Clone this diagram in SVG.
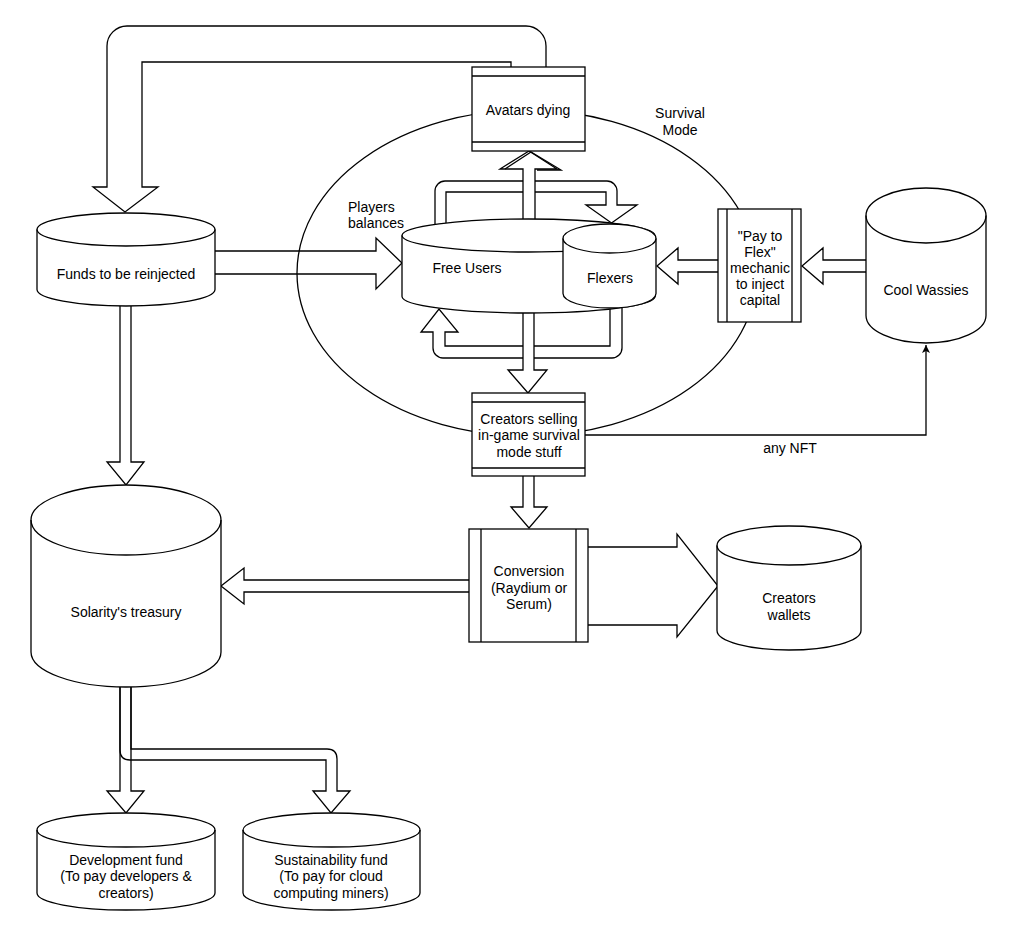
<svg xmlns="http://www.w3.org/2000/svg" width="1024" height="945" viewBox="0 0 1024 945">
<style>
.s{stroke:#000;stroke-width:1.3;fill:#fff;stroke-linejoin:miter}
.n{stroke:#000;stroke-width:1.3;fill:none}
text{font-family:"Liberation Sans",Arial,Helvetica,sans-serif;font-size:14px;fill:#000;text-anchor:middle}
</style>
<defs>
<marker id="ah" markerWidth="10" markerHeight="10" refX="8" refY="4" orient="auto" markerUnits="userSpaceOnUse">
<path d="M0,0 L8,4 L0,8 L2,4 Z" fill="#000"/>
</marker>
</defs>
<rect width="1024" height="945" fill="#fff"/>
<g id="connectors">
<path class="s" d="M546,67 V46 A20,20 0 0 0 526,26 H127 A20,20 0 0 0 107,46 V187 H93 L125,212 L158,187 H142 V62 H511 V67"/>
<path class="n" d="M215,251 H376 V238 L402,263 L376,289 V274 H215"/>
<path class="n" d="M120,306 V462 H107 L126,485 L144,462 H131 V306"/>
<path class="s" d="M435,224 V191 A10,10 0 0 1 445,181 H607 A10,10 0 0 1 617,191 V205 H637 L611.5,223 L586,205 H606 V192 H446 V224"/>
<path class="s" d="M523,222 V169 H500 L529,151 L557,169 H535 V222 Z"/>
<path class="n" d="M505,169 L531,152 L561,170 H537"/>
<path class="s" d="M610,305 V346 H445 V332 H458 L439,309 L421,332 H433 V348 A10,10 0 0 0 443,358 H612 A10,10 0 0 0 622,348 V305"/>
<path class="s" d="M523,310 V370 H508 L528,393 L547,370 H534 V310 Z"/>
<path class="s" d="M523,476 V507 H511 L529,528 L547,507 H534 V476"/>
<path class="s" d="M470,580 H244 V568 L221,586 L244,604 V592 H470"/>
<path class="s" d="M588,547 H677 V534 L718,586 L677,637 V625 H588"/>
<path class="s" d="M866,260 H823 V248 L802,266 L823,284 V272 H866"/>
<path class="s" d="M718,260 H678 V248 L657,266 L678,284 V272 H718"/>
<path class="n" d="M120,687 V750 Q120,760 130,760 H326 V791 H313 L331,813 L350,791 H337 V759 Q337,749 327,749 H131 V687"/>
<path class="n" d="M120,687 V791 H107 L126,813 L144,791 H131 V687"/>
<path class="n" d="M585,435 H926 V345" marker-end="url(#ah)"/>
<text x="790" y="453">any NFT</text>
</g>
<g id="survival-mode">
<ellipse class="n" cx="527" cy="273" rx="230" ry="163"/>
<text x="680" y="118">Survival</text>
<text x="680" y="135">Mode</text>
<text x="348" y="212" style="text-anchor:start">Players</text>
<text x="348" y="228" style="text-anchor:start">balances</text>
</g>
<g id="avatars-dying">
<rect class="s" x="472" y="67" width="113" height="84"/>
<path class="n" d="M472,76 H585 M472,142 H585"/>
<text x="528" y="115">Avatars dying</text>
</g>
<g id="funds-reinjected">
<path class="s" d="M37,229.5 A89,16.5 0 0 1 215,229.5 V289.5 A89,16.5 0 0 1 37,289.5 Z"/>
<path class="n" d="M37,229.5 A89,16.5 0 0 0 215,229.5"/>
<text x="126" y="279">Funds to be reinjected</text>
</g>
<g id="free-users">
<path class="s" d="M402,235.5 A126.5,16.5 0 0 1 655,235.5 V296.5 A126.5,16.5 0 0 1 402,296.5 Z"/>
<path class="n" d="M402,235.5 A126.5,16.5 0 0 0 655,235.5"/>
<text x="467" y="273">Free Users</text>
</g>
<g id="flexers">
<path class="s" d="M563,238.5 A46.5,14.5 0 0 1 656,238.5 V293.5 A46.5,14.5 0 0 1 563,293.5 Z"/>
<path class="n" d="M563,238.5 A46.5,14.5 0 0 0 656,238.5"/>
<text x="610" y="283">Flexers</text>
</g>
<g id="pay-to-flex">
<rect class="s" x="718" y="209" width="83" height="113"/>
<path class="n" d="M727,209 V322 M792,209 V322"/>
<text x="760" y="241">"Pay to</text>
<text x="760" y="257">Flex"</text>
<text x="760" y="273">mechanic</text>
<text x="760" y="289">to inject</text>
<text x="760" y="305">capital</text>
</g>
<g id="cool-wassies">
<path class="s" d="M866,215.5 A60,27.5 0 0 1 986,215.5 V315.5 A60,27.5 0 0 1 866,315.5 Z"/>
<path class="n" d="M866,215.5 A60,27.5 0 0 0 986,215.5"/>
<text x="926" y="295">Cool Wassies</text>
</g>
<g id="creators-selling">
<rect class="s" x="472" y="393" width="113" height="83"/>
<path class="n" d="M472,402 H585 M472,468 H585"/>
<text x="529" y="424">Creators selling</text>
<text x="529" y="440">in-game survival</text>
<text x="529" y="457">mode stuff</text>
</g>
<g id="conversion">
<rect class="s" x="469" y="529" width="119" height="113"/>
<path class="n" d="M481,529 V642 M576,529 V642"/>
<text x="529" y="576">Conversion</text>
<text x="529" y="593">(Raydium or</text>
<text x="529" y="609">Serum)</text>
</g>
<g id="creators-wallets">
<path class="s" d="M717,545.5 A72,19.5 0 0 1 861,545.5 V630.5 A72,19.5 0 0 1 717,630.5 Z"/>
<path class="n" d="M717,545.5 A72,19.5 0 0 0 861,545.5"/>
<text x="789" y="603">Creators</text>
<text x="789" y="620">wallets</text>
</g>
<g id="treasury">
<path class="s" d="M31,520 A95,35 0 0 1 221,520 V652 A95,35 0 0 1 31,652 Z"/>
<path class="n" d="M31,520 A95,35 0 0 0 221,520"/>
<text x="126" y="617">Solarity's treasury</text>
</g>
<g id="development-fund">
<path class="s" d="M37,830 A89,17 0 0 1 215,830 V893 A89,17 0 0 1 37,893 Z"/>
<path class="n" d="M37,830 A89,17 0 0 0 215,830"/>
<text x="126" y="865">Development fund</text>
<text x="126" y="881">(To pay developers &amp;</text>
<text x="126" y="898">creators)</text>
</g>
<g id="sustainability-fund">
<path class="s" d="M243,830 A88.5,17 0 0 1 420,830 V893 A88.5,17 0 0 1 243,893 Z"/>
<path class="n" d="M243,830 A88.5,17 0 0 0 420,830"/>
<text x="331" y="865">Sustainability fund</text>
<text x="331" y="881">(To pay for cloud</text>
<text x="331" y="898">computing miners)</text>
</g>
</svg>
